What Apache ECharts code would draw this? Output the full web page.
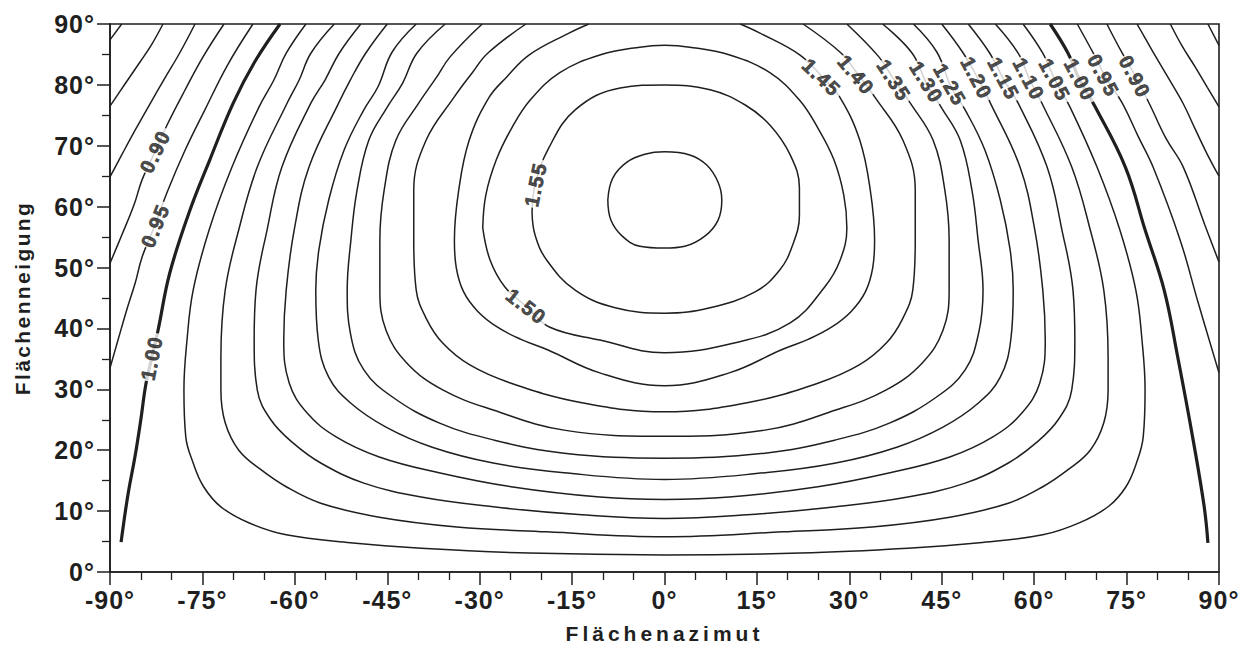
<!DOCTYPE html>
<html>
<head>
<meta charset="utf-8">
<title>Flächenazimut / Flächenneigung</title>
<script src="https://cdn.jsdelivr.net/npm/echarts@6/dist/echarts.min.js"></script>
<style>
  html, body { margin: 0; padding: 0; background: #fff; }
  #chart { width: 1239px; height: 652px; }
</style>
</head>
<body>
<div id="chart"></div>
<script>
// Isolines of the irradiation ratio, points given as [azimuth °, tilt °].
// West/east halves for the lines that end on the side edges.
const iso075W = [[-90, 87.4], [-88.1, 90]];
const iso075E = [[88.2, 90], [90, 86.5]];
const iso080W = [[-90, 76.5], [-87.6, 80.1], [-85.1, 83.8], [-83.2, 86.7], [-81.4, 90]];
const iso080E = [[82.1, 90], [84.0, 86.4], [86.1, 83.0], [88.1, 79.6], [90, 76.4]];
const iso085W = [[-90, 64.9], [-88.1, 68.5], [-85.9, 72.6], [-83.5, 76.9], [-81.1, 81.1], [-78.6, 85.4], [-76.2, 90]];
const iso085E = [[76.7, 90], [79.3, 85.4], [81.8, 81.1], [84.2, 76.9], [86.2, 72.6], [88.1, 68.6], [90, 65.0]];
const iso090W = [[-90, 50.7], [-88.1, 55.3], [-86.1, 60.3], [-84.8, 64.4], [-82.7, 69.0], [-80.6, 73.7], [-77.8, 79.2], [-74.9, 84.6], [-71.5, 90]];
const iso090E = [[71.8, 90], [74.3, 85.2], [76.4, 81.5], [78.8, 76.7], [81.4, 71.2], [84.2, 66.5], [87.7, 57.0], [90, 50.9]];
const iso095W = [[-90, 33.5], [-88.7, 38.1], [-87.3, 43.0], [-85.9, 47.5], [-84.8, 51.7], [-82.7, 57.0], [-80.6, 62.7], [-77.8, 69.3], [-74.6, 75.9], [-70.9, 83.3], [-66.8, 90]];
const iso095E = [[67.0, 90], [69.6, 85.2], [71.5, 81.5], [74.3, 77.0], [76.9, 71.5], [79.3, 66.5], [83.7, 54.5], [86.6, 44.3], [90, 32.7]];
const iso100W = [[-88.2, 4.9], [-87.1, 12.6], [-85.9, 19.2], [-85.0, 25.0], [-84.2, 30.7], [-83.2, 35.3], [-82.2, 39.7], [-80.3, 49.1], [-77.0, 59.5], [-73.8, 67.7], [-70.0, 77.0], [-66.5, 83.8], [-62.4, 90]];
const iso100E = [[62.6, 90], [65.5, 85.2], [67.4, 80.8], [69.9, 76.4], [74.8, 66.5], [78.0, 56.2], [81.1, 46.3], [83.3, 35.3], [85.8, 21.7], [87.6, 10.7], [88.2, 4.8]];

// U-shaped lines running from the top edge, round the bottom, back to the top edge.
const iso105 = [[-58.2, 90], [-61.4, 85.2], [-63.4, 80.8], [-65.8, 76.4], [-70.2, 66.5], [-73.9, 56.2], [-76.5, 46.3], [-77.5, 38.1], [-78.0, 29.9], [-77.7, 22.2], [-76.5, 17.9], [-74.8, 14.0], [-72.0, 10.7], [-67.3, 8.0], [-61.4, 6.1], [-51.0, 4.8], [-39.5, 3.9], [-22.0, 3.1], [0, 2.8], [22.0, 3.1], [39.5, 3.9], [51.1, 4.8], [61.4, 6.1], [67.4, 8.1], [72.1, 10.8], [74.9, 14.0], [76.6, 17.9], [77.7, 22.2], [78.0, 29.9], [77.5, 38.1], [76.5, 46.3], [73.9, 56.2], [70.2, 66.5], [65.8, 76.4], [63.4, 80.8], [61.4, 85.2], [58.2, 90]];
const iso110 = [[-53.6, 90], [-57.4, 85.2], [-59.3, 80.8], [-61.4, 76.7], [-66.1, 66.5], [-69.1, 56.2], [-71.3, 46.3], [-72.0, 35.3], [-72.0, 29.9], [-71.3, 24.5], [-69.1, 20.0], [-65.5, 16.8], [-61.4, 14.0], [-55.8, 11.3], [-46.3, 9.0], [-33.7, 7.4], [-19.2, 6.6], [0, 5.8], [19.2, 6.6], [33.7, 7.4], [46.3, 9.0], [55.8, 11.3], [61.4, 14.0], [65.5, 16.8], [69.1, 20.0], [71.3, 24.5], [72.0, 29.9], [72.0, 35.3], [71.3, 46.3], [69.1, 56.2], [66.1, 66.5], [61.4, 76.7], [59.3, 80.8], [57.4, 85.2], [53.7, 90]];
const iso115 = [[-49.3, 90], [-52.8, 85.2], [-55.1, 80.8], [-57.4, 77.0], [-62.1, 66.5], [-64.5, 56.2], [-66.3, 46.3], [-66.6, 38.1], [-66.1, 29.9], [-63.9, 25.0], [-60.3, 21.2], [-55.8, 17.9], [-48.8, 14.6], [-39.5, 12.3], [-27.8, 10.7], [-13.4, 9.4], [0, 8.8], [13.4, 9.4], [27.8, 10.7], [39.5, 12.3], [48.8, 14.6], [55.8, 17.9], [60.3, 21.2], [63.9, 25.0], [66.1, 29.9], [66.6, 38.1], [66.3, 46.3], [64.5, 56.2], [62.1, 66.5], [57.4, 77.0], [55.1, 80.8], [52.8, 85.2], [49.3, 90]];
const iso120 = [[-45.0, 90], [-48.5, 85.2], [-51.0, 80.8], [-52.8, 77.2], [-57.7, 66.5], [-60.1, 56.2], [-61.4, 46.3], [-61.8, 38.1], [-60.9, 31.0], [-58.0, 26.1], [-53.3, 22.2], [-46.3, 18.9], [-36.6, 16.3], [-24.9, 14.0], [-10.5, 12.3], [0, 11.9], [10.5, 12.3], [24.9, 14.0], [36.6, 16.3], [46.3, 18.9], [53.3, 22.2], [58.0, 26.1], [60.9, 31.0], [61.8, 38.1], [61.4, 46.3], [60.1, 56.2], [57.7, 66.5], [52.8, 77.2], [51.0, 80.8], [48.5, 85.2], [45.0, 90]];
const iso125 = [[-40.3, 90], [-44.2, 85.4], [-46.5, 79.7], [-48.8, 75.9], [-52.0, 69.3], [-54.5, 61.1], [-56.1, 52.9], [-56.6, 46.3], [-56.2, 38.1], [-54.5, 32.0], [-51.0, 27.8], [-45.2, 23.8], [-37.7, 20.5], [-27.8, 17.9], [-16.3, 16.3], [0, 15.2], [16.3, 16.3], [27.8, 17.9], [37.7, 20.5], [45.2, 23.8], [51.0, 27.8], [54.5, 32.0], [56.2, 38.1], [56.6, 46.3], [56.1, 52.9], [54.5, 61.1], [52.0, 69.3], [48.8, 75.9], [46.5, 79.7], [44.2, 85.4], [40.4, 90]];
const iso130 = [[-35.6, 90], [-40.2, 85.2], [-42.5, 80.3], [-45.1, 76.2], [-48.0, 70.9], [-49.9, 62.7], [-50.9, 54.5], [-51.5, 46.3], [-51.0, 39.3], [-48.8, 33.2], [-44.1, 28.7], [-36.6, 24.5], [-27.8, 21.7], [-16.3, 19.5], [0, 18.7], [16.3, 19.5], [27.8, 21.7], [36.6, 24.5], [44.1, 28.7], [48.8, 33.2], [51.0, 39.3], [51.7, 46.3], [50.9, 54.5], [49.9, 62.7], [48.0, 70.9], [45.0, 76.2], [42.5, 80.3], [40.2, 85.2], [35.4, 90]];
const iso135 = [[-29.6, 90], [-34.8, 84.6], [-37.1, 81.1], [-39.9, 77.0], [-43.6, 70.9], [-45.5, 62.7], [-46.2, 54.5], [-46.2, 46.3], [-45.2, 39.7], [-41.8, 34.3], [-36.0, 29.9], [-27.8, 26.6], [-16.3, 23.3], [0, 22.3], [16.3, 23.3], [27.8, 26.6], [36.0, 29.9], [41.8, 34.3], [45.2, 39.7], [46.2, 46.3], [46.2, 54.5], [45.5, 62.7], [43.6, 70.9], [39.9, 77.0], [37.1, 81.1], [34.8, 84.6], [29.6, 90]];
const iso140 = [[-22.5, 90], [-28.7, 85.2], [-31.2, 82.0], [-34.2, 77.9], [-38.7, 70.9], [-40.7, 62.7], [-40.7, 54.5], [-40.3, 46.3], [-38.6, 41.5], [-36.0, 37.6], [-31.6, 34.0], [-24.9, 31.0], [-13.4, 27.8], [0, 26.3], [13.4, 27.8], [24.9, 31.0], [31.6, 34.0], [36.0, 37.6], [38.6, 41.5], [40.3, 46.3], [40.7, 54.5], [40.7, 62.7], [38.7, 70.9], [34.2, 77.9], [31.2, 82.0], [28.7, 85.2], [22.5, 90]];
const iso145 = [[-12.3, 90], [-15.5, 88.5], [-22.0, 84.9], [-25.6, 81.3], [-28.5, 77.9], [-31.7, 70.9], [-33.4, 62.7], [-34.1, 54.5], [-33.8, 50.0], [-32.6, 46.0], [-30.3, 42.8], [-27.1, 40.2], [-23.3, 38.2], [-19.0, 36.5], [-10.5, 32.7], [0, 30.6], [10.5, 32.7], [19.0, 36.5], [23.3, 38.2], [27.1, 40.2], [30.3, 42.8], [32.6, 46.0], [33.8, 50.0], [34.1, 54.5], [33.4, 62.7], [31.7, 70.9], [28.5, 77.9], [25.6, 81.3], [22.0, 84.9], [15.5, 88.5], [12.3, 90]];

// Closed rings round the maximum.
const iso150 = [[-29.5, 56.5], [-29.0, 61.9], [-27.3, 67.7], [-24.8, 72.9], [-21.8, 77.5], [-17.0, 82.0], [-10.5, 84.9], [-4.0, 86.2], [0, 86.5], [4.1, 86.2], [10.6, 84.9], [17.1, 82.0], [21.9, 77.5], [24.9, 72.9], [27.5, 67.7], [29.1, 61.9], [29.6, 56.5], [28.5, 51.2], [26.0, 46.8], [20.4, 40.9], [11.3, 37.6], [0, 36.0], [-10.5, 38.1], [-18.6, 40.2], [-22.3, 43.5], [-25.9, 46.8], [-28.3, 51.2], [-29.5, 56.5]];
const iso155 = [[-21.5, 59.0], [-21.0, 63.6], [-18.8, 69.6], [-14.5, 75.9], [-7.2, 79.5], [0, 80.0], [7.4, 79.2], [13.1, 76.7], [17.1, 73.4], [20.4, 68.5], [21.9, 63.1], [21.9, 58.6], [20.8, 53.7], [18.7, 49.6], [14.7, 46.0], [7.4, 43.4], [0, 42.5], [-8.0, 43.4], [-14.5, 46.3], [-19.1, 51.2], [-21.0, 55.3], [-21.5, 59.0]];
const iso160 = [[-9.2, 61.1], [-8.4, 64.7], [-6.1, 67.3], [-3.2, 68.6], [0, 69.0], [4.1, 68.5], [6.9, 66.8], [8.7, 64.0], [9.3, 61.1], [8.7, 57.8], [6.6, 55.2], [3.3, 53.5], [0, 53.2], [-4.0, 53.5], [-6.9, 55.2], [-8.7, 57.8], [-9.2, 61.1]];

// Inline level labels: [azimuth °, tilt °, text]
const labelSpots = [
  [-82.6, 69.2, '0.90'], [-82.6, 57.0, '0.95'], [-83.2, 35.3, '1.00'],
  [-20.9, 63.8, '1.55'], [-22.3, 43.5, '1.50'],
  [25.6, 81.1, '1.45'], [31.2, 81.5, '1.40'], [37.3, 80.6, '1.35'], [42.6, 80.3, '1.30'],
  [46.4, 79.9, '1.25'], [50.7, 81.0, '1.20'], [55.1, 80.9, '1.15'], [59.2, 80.8, '1.10'],
  [63.4, 80.7, '1.05'], [67.5, 80.7, '1.00'], [71.3, 81.4, '0.95'], [76.4, 81.2, '0.90']
];
// Text direction of each label, degrees counter-clockwise
const labelTurns = [64, 68, 79, 78, -38, -44, -50, -57, -58, -60, -62, -62, -62, -62, -62, -62, -62];

const xTicks = { min: -90, max: 90, step: 15 };
const yTicks = { min: 0, max: 90, step: 10 };

const isolines = [
  { level: '0.75', parts: [iso075W, iso075E] },
  { level: '0.80', parts: [iso080W, iso080E] },
  { level: '0.85', parts: [iso085W, iso085E] },
  { level: '0.90', parts: [iso090W, iso090E] },
  { level: '0.95', parts: [iso095W, iso095E] },
  { level: '1.00', parts: [iso100W, iso100E], heavy: true },
  { level: '1.05', parts: [iso105] },
  { level: '1.10', parts: [iso110] },
  { level: '1.15', parts: [iso115] },
  { level: '1.20', parts: [iso120] },
  { level: '1.25', parts: [iso125] },
  { level: '1.30', parts: [iso130] },
  { level: '1.35', parts: [iso135] },
  { level: '1.40', parts: [iso140] },
  { level: '1.45', parts: [iso145] },
  { level: '1.50', parts: [iso150] },
  { level: '1.55', parts: [iso155] },
  { level: '1.60', parts: [iso160] }
];

const INK = '#1f1f1f';
const FONT = '"Liberation Sans", Arial, Helvetica, sans-serif';

const series = [];
isolines.forEach(iso => {
  iso.parts.forEach(part => {
    series.push({
      type: 'line',
      name: iso.level,
      data: part,
      smooth: 0.4,
      symbol: 'none',
      silent: true,
      animation: false,
      lineStyle: { color: INK, width: iso.heavy ? 3.2 : 1.5 },
      z: 2
    });
  });
});

series.push({
  type: 'scatter',
  silent: true,
  animation: false,
  symbolSize: 1,
  itemStyle: { color: 'rgba(0,0,0,0)' },
  z: 5,
  data: labelSpots.map((p, i) => ({
    name: p[2],
    value: [p[0], p[1]],
    label: { rotate: labelTurns[i] }
  })),
  label: {
    show: true,
    position: 'inside',
    formatter: '{b}',
    color: INK,
    fontFamily: FONT,
    fontWeight: 'bold',
    fontSize: 20,
    lineHeight: 20,
    textBorderColor: INK,
    textBorderWidth: 0.7,
    backgroundColor: '#fff',
    padding: [0, 6, 0, 4]
  }
});

const axisInk = { color: INK, width: 1.6 };
const tickLabel = {
  color: INK,
  fontFamily: FONT,
  fontWeight: 'bold',
  fontSize: 25,
  formatter: v => v + '°',
  showMinLabel: true,
  showMaxLabel: true
};

const chart = echarts.init(document.getElementById('chart'), null, { renderer: 'svg' });
chart.setOption({
  animation: false,
  backgroundColor: '#fff',
  grid: {
    left: 110, right: 20, top: 24, bottom: 80,
    show: true, borderColor: INK, borderWidth: 1.6,
    outerBoundsMode: 'none'
  },
  xAxis: {
    type: 'value',
    min: xTicks.min, max: xTicks.max, interval: xTicks.step,
    axisLine: { show: true, onZero: false, lineStyle: axisInk },
    axisTick: { show: true, length: 13, lineStyle: { color: INK, width: 1.5 } },
    minorTick: { show: true, splitNumber: 3, length: 8, lineStyle: { color: INK, width: 1.3 } },
    splitLine: { show: false },
    axisLabel: Object.assign({ margin: 15 }, tickLabel),
    name: 'Flächenazimut',
    nameLocation: 'middle',
    nameGap: 51,
    nameTextStyle: { color: INK, fontFamily: FONT, fontWeight: 'bold', fontSize: 21 }
  },
  yAxis: {
    type: 'value',
    min: yTicks.min, max: yTicks.max, interval: yTicks.step,
    axisLine: { show: true, onZero: false, lineStyle: axisInk },
    axisTick: { show: true, length: 13, lineStyle: { color: INK, width: 1.5 } },
    minorTick: { show: true, splitNumber: 2, length: 8, lineStyle: { color: INK, width: 1.3 } },
    splitLine: { show: false },
    axisLabel: Object.assign({ margin: 15 }, tickLabel),
    name: 'Flächenneigung',
    nameLocation: 'middle',
    nameGap: 77,
    nameTextStyle: { color: INK, fontFamily: FONT, fontWeight: 'bold', fontSize: 21 }
  },
  series: series
});

// Wide, spaced-out lettering of the printed chart
function spaceLetters() {
  const levelNames = new Set(labelSpots.map(p => p[2]));
  document.querySelectorAll('#chart svg text').forEach(t => {
    const s = t.textContent;
    if (s === 'Flächenazimut') t.setAttribute('letter-spacing', '4px');
    else if (s === 'Flächenneigung') t.setAttribute('letter-spacing', '2.4px');
    else if (s.endsWith('°')) t.setAttribute('letter-spacing', '1px');
    else if (levelNames.has(s)) t.setAttribute('letter-spacing', '1.5px');
  });
}
spaceLetters();
chart.on('finished', spaceLetters);
</script>
</body>
</html>
